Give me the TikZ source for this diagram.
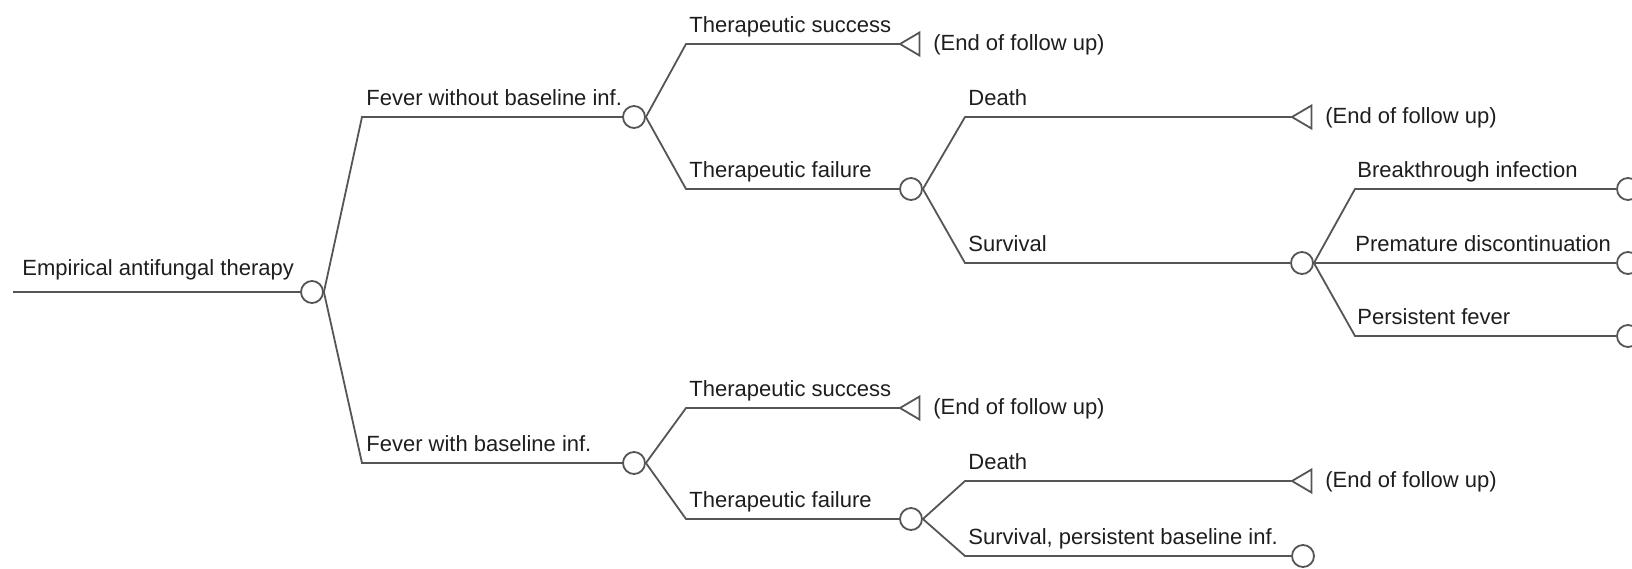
\documentclass[tikz,border=0pt]{standalone}
\usepackage{fontspec}
\setmainfont{Liberation Sans}
\definecolor{linec}{HTML}{555555}
\definecolor{textc}{HTML}{1E1E1E}
\tikzset{
  br/.style={draw=linec, line width=0.9pt},
  chance/.style={circle, draw=linec, line width=0.9pt, fill=white, minimum size=11pt, inner sep=0pt},
  lab/.style={anchor=base west, inner sep=0pt, text=textc, font=\fontsize{11pt}{13pt}\selectfont},
  term/.style={draw=linec, line width=0.9pt, fill=white, line join=miter}
}
\newcommand{\termtri}[1]{\draw[term] (#1) -- ++(19.5,-11.5) -- ++(0,23) -- cycle;}
\begin{document}
\begin{tikzpicture}[x=0.5pt, y=-0.5pt]
\useasboundingbox[fill=white] (0,0) rectangle (1632,568);

% chance nodes
\node[chance] (n0) at (312,292) {};
\node[chance] (u1) at (634,117) {};
\node[chance] (l1) at (634,463) {};
\node[chance] (u2) at (911,189) {};
\node[chance] (l2) at (911,519) {};
\node[chance] (s3) at (1302,263) {};
\node[chance] (e1) at (1628,189) {};
\node[chance] (e2) at (1628,263) {};
\node[chance] (e3) at (1628,336) {};
\node[chance] (l3) at (1303,556) {};

% corners and free ends
\coordinate (r0) at (13,292);
\coordinate (kU1) at (362,117);
\coordinate (kL1) at (362,463);
\coordinate (kUs) at (686,44);
\coordinate (kUf) at (686,189);
\coordinate (kLs) at (686,408);
\coordinate (kLf) at (686,519);
\coordinate (kUd) at (965,117);
\coordinate (kUv) at (965,263);
\coordinate (kLd) at (965,481);
\coordinate (kLv) at (965,556);
\coordinate (kB) at (1355,189);
\coordinate (kP) at (1355,336);
\coordinate (t1) at (900,44);
\coordinate (t2) at (1292,117);
\coordinate (t3) at (900,408);
\coordinate (t4) at (1292,481);

% connectors
\draw[br] (r0) -- (n0.west);
\draw[br] (n0.east) -- (kU1) -- (u1.west);
\draw[br] (n0.east) -- (kL1) -- (l1.west);
\draw[br] (u1.east) -- (kUs) -- (t1);
\draw[br] (u1.east) -- (kUf) -- (u2.west);
\draw[br] (l1.east) -- (kLs) -- (t3);
\draw[br] (l1.east) -- (kLf) -- (l2.west);
\draw[br] (u2.east) -- (kUd) -- (t2);
\draw[br] (u2.east) -- (kUv) -- (s3.west);
\draw[br] (l2.east) -- (kLd) -- (t4);
\draw[br] (l2.east) -- (kLv) -- (l3.west);
\draw[br] (s3.east) -- (kB) -- (e1.west);
\draw[br] (s3.east) -- (e2.west);
\draw[br] (s3.east) -- (kP) -- (e3.west);

% terminal triangles
\termtri{t1}
\termtri{t2}
\termtri{t3}
\termtri{t4}

% labels
\node[lab] (a0) at (22,275) {Empirical antifungal therapy};
\node[lab] (a1) at (366,105) {Fever without baseline inf.};
\node[lab] (a2) at (366,451) {Fever with baseline inf.};
\node[lab] (a3) at (689,32) {Therapeutic success};
\node[lab] (a4) at (689,177) {Therapeutic failure};
\node[lab] (a5) at (968,105) {Death};
\node[lab] (a6) at (968,251) {Survival};
\node[lab] (a7) at (1357,177) {Breakthrough infection};
\node[lab] (a8) at (1355,251) {Premature discontinuation};
\node[lab] (a9) at (1357,324) {Persistent fever};
\node[lab] (a10) at (689,396) {Therapeutic success};
\node[lab] (a11) at (689,507) {Therapeutic failure};
\node[lab] (a12) at (968,469) {Death};
\node[lab] (a13) at (968,544) {Survival, persistent baseline inf.};
\node[lab] (f1) at (933,50) {(End of follow up)};
\node[lab] (f2) at (1325,123) {(End of follow up)};
\node[lab] (f3) at (933,414) {(End of follow up)};
\node[lab] (f4) at (1325,487) {(End of follow up)};
\end{tikzpicture}
\end{document}
